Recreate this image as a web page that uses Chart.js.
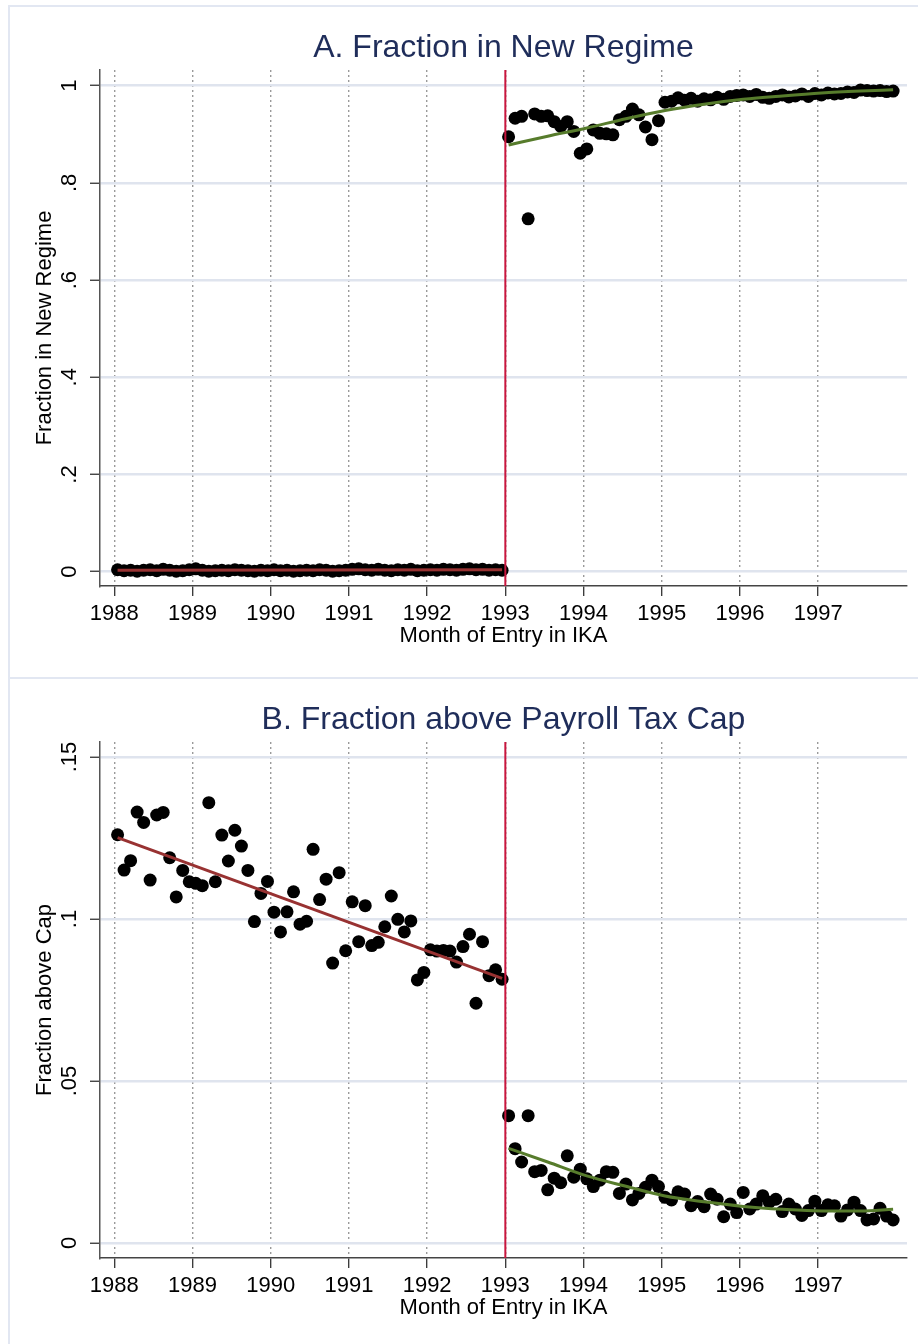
<!DOCTYPE html>
<html><head><meta charset="utf-8">
<script src="https://cdn.jsdelivr.net/npm/chart.js@4.4.0/dist/chart.umd.min.js"></script>
<style>
html,body{margin:0;padding:0;background:#fff;width:918px;height:1344px;overflow:hidden;position:relative;}
.panel{position:absolute;left:0;width:918px;height:672px;}
#pA{top:6px} #pB{top:678px}
.bline{position:absolute;background:#e2e7f2;}
</style></head><body>
<div class="bline" style="left:8px;top:5px;width:910px;height:2px"></div>
<div class="bline" style="left:8px;top:5px;width:2px;height:1339px"></div>
<div class="bline" style="left:8px;top:677px;width:910px;height:2px"></div>
<div class="panel" id="pA"><canvas id="cA" width="918" height="672"></canvas></div>
<div class="panel" id="pB"><canvas id="cB" width="918" height="672"></canvas></div>
<script>
// ---- data ----
const startYear = 1988;
const cutoffYear = 1993;
const yearTicks = [1988,1989,1990,1991,1992,1993,1994,1995,1996,1997];

// Panel A: fraction in new regime, monthly, months 0-59 and 60-119
const newRegimePre = [0.004,0.002,0.003,0.001,0.003,0.004,0.002,0.005,0.003,0.001,
  0.002,0.004,0.006,0.003,0.001,0.002,0.003,0.002,0.004,0.003,
  0.002,0.001,0.003,0.002,0.004,0.002,0.003,0.001,0.002,0.003,
  0.002,0.004,0.003,0.001,0.002,0.003,0.005,0.006,0.004,0.003,
  0.005,0.003,0.002,0.004,0.003,0.005,0.002,0.003,0.004,0.003,
  0.005,0.004,0.003,0.005,0.006,0.004,0.005,0.003,0.004,0.003];
const newRegimePost = [0.895,0.933,0.937,0.726,0.942,0.937,0.938,0.926,0.916,0.926,
  0.906,0.861,0.870,0.909,0.902,0.901,0.899,0.930,0.937,0.952,
  0.940,0.915,0.889,0.928,0.966,0.968,0.975,0.970,0.974,0.968,
  0.973,0.971,0.976,0.972,0.978,0.980,0.981,0.978,0.982,0.976,
  0.974,0.978,0.981,0.977,0.979,0.983,0.978,0.984,0.981,0.985,
  0.983,0.984,0.987,0.986,0.991,0.990,0.989,0.990,0.988,0.989];
const fitMonthsPreA = [0, 59];
const fitValuesPreA = [0.003, 0.004];
const fitMonthsPostA = [60,66,72,78,84,90,96,102,108,114,119];
const fitValuesPostA = [0.878,0.896,0.913,0.932,0.949,0.962,0.972,0.979,0.985,0.989,0.9915];
const yTicksA = [0,0.2,0.4,0.6,0.8,1];
const yLabelsA = ['0','.2','.4','.6','.8','1'];

// Panel B: fraction above payroll tax cap
const aboveCapPre = [0.1260,0.1151,0.1180,0.1330,0.1298,0.1120,0.1321,0.1329,0.1189,0.1068,
  0.1150,0.1115,0.1110,0.1103,0.1359,0.1115,0.1259,0.1179,0.1274,0.1225,
  0.1150,0.0992,0.1079,0.1116,0.1021,0.0960,0.1022,0.1084,0.0984,0.0993,
  0.1215,0.1060,0.1123,0.0864,0.1143,0.0902,0.1053,0.0930,0.1041,0.0918,
  0.0928,0.0976,0.1071,0.0999,0.0960,0.0994,0.0812,0.0835,0.0905,0.0901,
  0.0903,0.0901,0.0867,0.0915,0.0953,0.0740,0.0930,0.0825,0.0843,0.0814];
const aboveCapPost = [0.0393,0.0291,0.0250,0.0393,0.0220,0.0224,0.0164,0.0200,0.0186,0.0269,
  0.0203,0.0228,0.0198,0.0174,0.0194,0.0220,0.0218,0.0153,0.0182,0.0133,
  0.0153,0.0172,0.0194,0.0174,0.0141,0.0133,0.0158,0.0151,0.0115,0.0128,
  0.0112,0.0151,0.0135,0.0081,0.0120,0.0094,0.0156,0.0105,0.0120,0.0146,
  0.0126,0.0135,0.0097,0.0120,0.0105,0.0085,0.0100,0.0129,0.0100,0.0118,
  0.0115,0.0083,0.0102,0.0126,0.0100,0.0071,0.0074,0.0107,0.0083,0.0071];
const fitMonthsPreB = [0, 59];
const fitValuesPreB = [0.1251, 0.0817];
const fitMonthsPostB = [60,66,72,78,84,90,96,102,108,114,119];
const fitValuesPostB = [0.0292,0.0250,0.0207,0.0175,0.0145,0.0127,0.0113,0.0104,0.0099,0.0099,0.0104];
const yTicksB = [0,0.05,0.1,0.15];
const yLabelsB = ['0','.05','.1','.15'];

// ---- helpers ----
const FONT = '"Liberation Sans", Arial, Helvetica, sans-serif';
const monthX = m => startYear + (m + 0.5) / 12;
const toPts = (vals, firstMonth) => vals.map((v, i) => ({x: monthX(firstMonth + i), y: v}));
const knotPts = (months, vals) => months.map((m, i) => ({x: monthX(m), y: vals[i]}));

const stataText = {
  id: 'stataText',
  afterDraw(chart, args, opts) {
    const {ctx, chartArea, scales} = chart;
    ctx.save();
    ctx.font = '32px ' + FONT;
    ctx.fillStyle = '#1f2d5a';
    ctx.textAlign = 'center';
    ctx.textBaseline = 'middle';
    ctx.fillText(opts.title, (chartArea.left + chartArea.right) / 2, 42);
    ctx.font = '22px ' + FONT;
    ctx.fillStyle = '#000';
    opts.yTicks.forEach((v, i) => {
      const y = scales.y.getPixelForValue(v);
      ctx.save();
      ctx.translate(70, y);
      ctx.rotate(-Math.PI / 2);
      ctx.fillText(opts.yLabels[i], 0, 0);
      ctx.restore();
    });
    ctx.restore();
  }
};

function makeChart(id, cfg) {
  const yMin = cfg.yMin, yMax = cfg.yMax;
  return new Chart(document.getElementById(id), {
    type: 'scatter',
    data: {
      datasets: [
        {data: [{x: cutoffYear, y: yMin}, {x: cutoffYear, y: yMax}], showLine: true,
         borderColor: '#c8163e', borderWidth: 2, pointRadius: 0, pointHoverRadius: 0},
        {data: knotPts(cfg.fitPreM, cfg.fitPreV), showLine: true, borderColor: '#983232',
         borderWidth: 3, pointRadius: 0, pointHoverRadius: 0},
        {data: knotPts(cfg.fitPostM, cfg.fitPostV), showLine: true, borderColor: '#577c2c',
         borderWidth: 3, pointRadius: 0, pointHoverRadius: 0, cubicInterpolationMode: 'monotone'},
        {data: toPts(cfg.pre, 0).concat(toPts(cfg.post, 60)), backgroundColor: '#000',
         borderWidth: 0, pointRadius: 6.5, pointHoverRadius: 6.5}
      ]
    },
    options: {
      responsive: false,
      animation: false,
      layout: {padding: {left: 0, right: 11, top: 64, bottom: 0}},
      plugins: {
        legend: {display: false}, tooltip: {enabled: false}, title: {display: false},
        stataText: {title: cfg.title, yTicks: cfg.yTicks, yLabels: cfg.yLabels}
      },
      scales: {
        x: {
          type: 'linear', min: 1987.817, max: 1998.136,
          afterBuildTicks: s => { s.ticks = yearTicks.map(v => ({value: v})); },
          afterFit: s => { s.height = 92; },
          ticks: {padding: 5, color: '#000', font: {family: FONT, size: 22},
                  callback: v => String(v), maxRotation: 0, minRotation: 0, autoSkip: false},
          grid: {color: '#9a9a9a', lineWidth: 1.4, tickLength: 10, tickColor: '#333',
                 tickWidth: 1.3, tickBorderDash: []},
          border: {color: '#444', width: 1.5, dash: [2, 3]},
          title: {display: true, text: 'Month of Entry in IKA', color: '#000',
                  font: {family: FONT, size: 22}, padding: {top: 0, bottom: 29}}
        },
        y: {
          type: 'linear', min: yMin, max: yMax,
          afterBuildTicks: s => { s.ticks = cfg.yTicks.map(v => ({value: v})); },
          afterFit: s => { s.width = 100; },
          ticks: {display: false},
          grid: {color: '#dfe4ee', lineWidth: 2.5, tickLength: 10, tickColor: '#333', tickWidth: 1.3},
          border: {color: '#555', width: 1.5},
          title: {display: true, text: cfg.yTitle, color: '#000',
                  font: {family: FONT, size: 22}, padding: {top: 32, bottom: 0}}
        }
      }
    },
    plugins: [stataText]
  });
}

makeChart('cA', {
  title: 'A. Fraction in New Regime', yTitle: 'Fraction in New Regime',
  yMin: -0.0294, yMax: 1.0323, yTicks: yTicksA, yLabels: yLabelsA,
  pre: newRegimePre, post: newRegimePost,
  fitPreM: fitMonthsPreA, fitPreV: fitValuesPreA, fitPostM: fitMonthsPostA, fitPostV: fitValuesPostA
});
makeChart('cB', {
  title: 'B. Fraction above Payroll Tax Cap', yTitle: 'Fraction above Cap',
  yMin: -0.00463, yMax: 0.15463, yTicks: yTicksB, yLabels: yLabelsB,
  pre: aboveCapPre, post: aboveCapPost,
  fitPreM: fitMonthsPreB, fitPreV: fitValuesPreB, fitPostM: fitMonthsPostB, fitPostV: fitValuesPostB
});
</script>
</body></html>
